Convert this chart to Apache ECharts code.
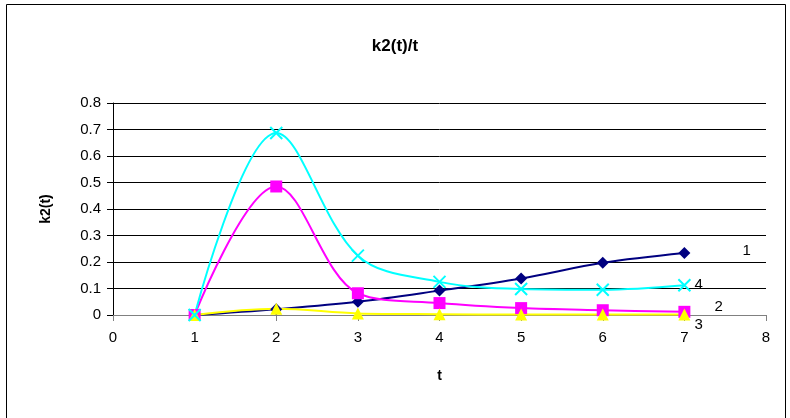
<!DOCTYPE html>
<html><head><meta charset="utf-8">
<script src="https://cdn.jsdelivr.net/npm/echarts@6/dist/echarts.min.js"></script>
<style>html,body{margin:0;padding:0;background:#fff}#c{width:790px;height:418px}</style>
</head><body><div id="c"></div>
<script>
const tValues = [1, 2, 3, 4, 5, 6, 7];
const series1 = [0, 0.022, 0.05, 0.092, 0.138, 0.197, 0.234];
const series2 = [0, 0.485, 0.082, 0.045, 0.026, 0.018, 0.012];
const series3 = [0, 0.024, 0.006, 0.003, 0.002, 0.002, 0.002];
const series4 = [0, 0.687, 0.224, 0.125, 0.098, 0.095, 0.112];
const seriesNames = ['1', '2', '3', '4'];
const yTicks = [0, 0.1, 0.2, 0.3, 0.4, 0.5, 0.6, 0.7, 0.8];

const pair = arr => arr.map((v, i) => [tValues[i], v]);
const font = 'Liberation Sans, Arial, sans-serif';
function mk(name, data, color, symbol, size, off, stroke) {
  return {
    name, type: 'line', smooth: 0.35, data: pair(data),
    symbol, symbolSize: size,
    lineStyle: { color, width: 2 },
    itemStyle: stroke ? { color: 'none', borderColor: color, borderWidth: 2 } : { color },
    endLabel: { show: true, formatter: name, color: '#000', fontFamily: font, fontSize: 15, offset: off },
    z: 3
  };
}
const chart = echarts.init(document.getElementById('c'));
chart.setOption({
  animation: false,
  title: { text: 'k2(t)/t', left: 'center', top: 33, textStyle: { fontFamily: font, fontWeight: 'bold', fontSize: 17, color: '#000' } },
  graphic: [{ type: 'rect', shape: { x: 6.5, y: 4.5, width: 779, height: 420 }, style: { fill: 'none', stroke: '#000', lineWidth: 1 }, silent: true }],
  grid: { left: 113, right: 24, top: 103, bottom: 103 },
  xAxis: {
    type: 'value', min: 0, max: 8, interval: 1,
    name: 't', nameLocation: 'middle', nameGap: 54,
    nameTextStyle: { fontFamily: font, fontWeight: 'bold', fontSize: 14, color: '#000' },
    axisLine: { show: true, lineStyle: { color: '#808080', width: 1 } },
    axisTick: { show: true, inside: false, length: 6, lineStyle: { color: '#808080' } },
    axisLabel: { fontFamily: font, fontSize: 15, color: '#000', margin: 15 },
    splitLine: { show: false }
  },
  yAxis: {
    type: 'value', min: 0, max: 0.8, interval: 0.1,
    name: 'k2(t)', nameLocation: 'middle', nameGap: 60, nameRotate: 90,
    nameTextStyle: { fontFamily: font, fontWeight: 'bold', fontSize: 14, color: '#000' },
    axisLine: { show: true, onZero: false, lineStyle: { color: '#000', width: 1 } },
    axisTick: { show: true, length: 6, lineStyle: { color: '#000' } },
    axisLabel: { fontFamily: font, fontSize: 15, color: '#000', margin: 12, formatter: v => yTicks.includes(Math.round(v * 10) / 10) ? String(Math.round(v * 10) / 10) : '' },
    splitLine: { show: true, lineStyle: { color: '#000', width: 1 } }
  },
  series: [
    mk(seriesNames[0], series1, '#000080', 'diamond', 12, [50, -2]),
    mk(seriesNames[1], series2, '#FF00FF', 'rect', 12, [22, -5]),
    mk(seriesNames[2], series3, '#FFFF00', 'triangle', 12, [2, 10]),
    mk(seriesNames[3], series4, '#00FFFF', 'path://M0,0L10,10M10,0L0,10', 12, [2, 0], true)
  ]
});
</script></body></html>
